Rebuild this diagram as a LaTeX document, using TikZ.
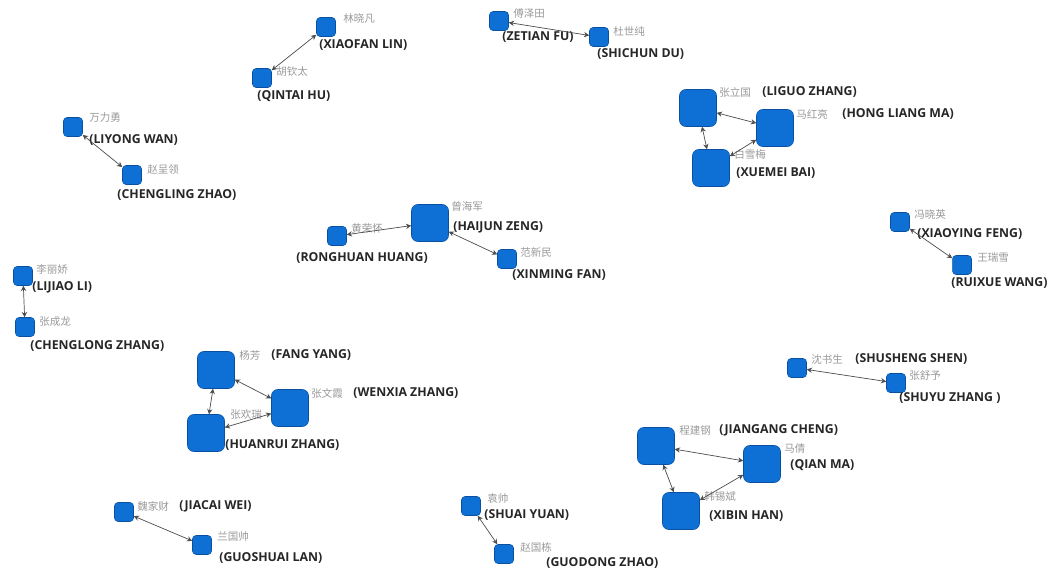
\documentclass[tikz,border=0pt]{standalone}
\usepackage{fontspec}
\setmainfont{Open Sans}
\newfontfamily\cjk{Noto Sans CJK SC}
\usepackage{xcolor}
\definecolor{nodeblue}{RGB}{14,112,212}
\definecolor{nodeedge}{RGB}{10,80,160}
\usetikzlibrary{arrows.meta}

\begin{document}
\begin{tikzpicture}[x=0.02cm,y=-0.02cm,
    author/.style={draw=nodeedge, fill=nodeblue, line width=0.3pt, inner sep=0pt},
    sm/.style={author, minimum size=0.38cm, rounded corners=2pt},
    lg/.style={author, minimum size=0.74cm, rounded corners=3.5pt},
    cn/.style={anchor=west, inner sep=0pt, text=black!40, font=\cjk\fontsize{6}{7}\selectfont},
    en/.style={anchor=west, inner sep=0pt, text=black!85, font=\fontsize{7}{8}\selectfont\bfseries},
    link/.style={draw=black!70, line width=0.4pt,
        {Stealth[length=3pt,width=3pt]}-{Stealth[length=3pt,width=3pt]}}]
    \useasboundingbox (0,0) rectangle (1048,570);

    % Lin - Hu
    \node[sm] (lin) at (326,27) {};
    \node[sm] (hu) at (262,78) {};
    \node[cn] (lincn) at (343,19) {林晓凡};
    \node[en] (linen) at (319,45) {(XIAOFAN LIN)};
    \node[cn] (hucn) at (276,72) {胡钦太};
    \node[en] (huen) at (257,96) {(QINTAI HU)};
    \draw[link] (hu) -- (lin);

    % Fu - Du
    \node[sm] (fu) at (499,21) {};
    \node[sm] (du) at (599,37) {};
    \node[cn] (fucn) at (513,14) {傅泽田};
    \node[en] (fuen) at (502,37) {(ZETIAN FU)};
    \node[cn] (ducn) at (613,31) {杜世纯};
    \node[en] (duen) at (597,54) {(SHICHUN DU)};
    \draw[link] (fu) -- (du);

    % Zhang - Ma - Bai
    \node[lg] (liguo) at (698,108) {};
    \node[lg] (hongliang) at (775,128) {};
    \node[lg] (xuemei) at (711,168) {};
    \node[cn] (liguocn) at (719,92) {张立国};
    \node[en] (liguoen) at (762,92) {(LIGUO ZHANG)};
    \node[cn] (hongliangcn) at (796,114) {马红亮};
    \node[en] (hongliangen) at (842,114) {(HONG LIANG MA)};
    \node[cn] (xuemeicn) at (734,154) {白雪梅};
    \node[en] (xuemeien) at (736,173) {(XUEMEI BAI)};
    \draw[link] (liguo) -- (hongliang);
    \draw[link] (liguo) -- (xuemei);
    \draw[link] (hongliang) -- (xuemei);

    % Wan - Zhao
    \node[sm] (liyong) at (73,127) {};
    \node[sm] (chengling) at (132,175) {};
    \node[cn] (liyongcn) at (89,118) {万力勇};
    \node[en] (liyongen) at (89,140) {(LIYONG WAN)};
    \node[cn] (chenglingcn) at (147,170) {赵呈领};
    \node[en] (chenglingen) at (117,195) {(CHENGLING ZHAO)};
    \draw[link] (liyong) -- (chengling);

    % Zeng - Huang - Fan
    \node[lg] (haijun) at (430,223) {};
    \node[sm] (ronghuan) at (337,236) {};
    \node[sm] (xinming) at (507,259) {};
    \node[cn] (haijuncn) at (451,206) {曾海军};
    \node[en] (haijunen) at (453,227) {(HAIJUN ZENG)};
    \node[cn] (ronghuancn) at (351,229) {黄荣怀};
    \node[en] (ronghuanen) at (296,258) {(RONGHUAN HUANG)};
    \node[cn] (xinmingcn) at (520,253) {范新民};
    \node[en] (xinmingen) at (512,275) {(XINMING FAN)};
    \draw[link] (ronghuan) -- (haijun);
    \draw[link] (haijun) -- (xinming);

    % Li - Zhang
    \node[sm] (lijiao) at (23,276) {};
    \node[sm] (chenglong) at (25,327) {};
    \node[cn] (lijiaocn) at (36,270) {李丽娇};
    \node[en] (lijiaoen) at (32,287) {(LIJIAO LI)};
    \node[cn] (chenglongcn) at (39,322) {张成龙};
    \node[en] (chenglongen) at (30,346) {(CHENGLONG ZHANG)};
    \draw[link] (lijiao) -- (chenglong);

    % Feng - Wang
    \node[sm] (xiaoying) at (900,222) {};
    \node[sm] (ruixue) at (962,265) {};
    \node[cn] (xiaoyingcn) at (914,215) {冯晓英};
    \node[en] (xiaoyingen) at (917,234) {(XIAOYING FENG)};
    \node[cn] (ruixuecn) at (977,258) {王瑞雪};
    \node[en] (ruixueen) at (951,283) {(RUIXUE WANG)};
    \draw[link] (xiaoying) -- (ruixue);

    % Yang - Zhang - Zhang
    \node[lg] (fang) at (216,370) {};
    \node[lg] (wenxia) at (290,408) {};
    \node[lg] (huanrui) at (206,433) {};
    \node[cn] (fangcn) at (239,355) {杨芳};
    \node[en] (fangen) at (271,355) {(FANG YANG)};
    \node[cn] (wenxiacn) at (311,393) {张文霞};
    \node[en] (wenxiaen) at (353,393) {(WENXIA ZHANG)};
    \node[cn] (huanruicn) at (230,415) {张欢瑞};
    \node[en] (huanruien) at (225,445) {(HUANRUI ZHANG)};
    \draw[link] (fang) -- (wenxia);
    \draw[link] (fang) -- (huanrui);
    \draw[link] (wenxia) -- (huanrui);

    % Shen - Zhang
    \node[sm] (shusheng) at (797,368) {};
    \node[sm] (shuyu) at (896,383) {};
    \node[cn] (shushengcn) at (811,359) {沈书生};
    \node[en] (shushengen) at (855,359) {(SHUSHENG SHEN)};
    \node[cn] (shuyucn) at (909,375) {张舒予};
    \node[en] (shuyuen) at (899,398) {(SHUYU ZHANG )};
    \draw[link] (shusheng) -- (shuyu);

    % Cheng - Ma - Han
    \node[lg] (jiangang) at (656,446) {};
    \node[lg] (qian) at (762,464) {};
    \node[lg] (xibin) at (681,511) {};
    \node[cn] (jiangangcn) at (679,430) {程建钢};
    \node[en] (jiangangen) at (719,430) {(JIANGANG CHENG)};
    \node[cn] (qiancn) at (784,448) {马倩};
    \node[en] (qianen) at (790,465) {(QIAN MA)};
    \node[cn] (xibincn) at (704,497) {韩锡斌};
    \node[en] (xibinen) at (709,516) {(XIBIN HAN)};
    \draw[link] (jiangang) -- (qian);
    \draw[link] (jiangang) -- (xibin);
    \draw[link] (qian) -- (xibin);

    % Wei - Lan
    \node[sm] (jiacai) at (124,512) {};
    \node[sm] (guoshuai) at (202,545) {};
    \node[cn] (jiacaicn) at (137,506) {魏家财};
    \node[en] (jiacaien) at (179,506) {(JIACAI WEI)};
    \node[cn] (guoshuaicn) at (217,537) {兰国帅};
    \node[en] (guoshuaien) at (219,558) {(GUOSHUAI LAN)};
    \draw[link] (jiacai) -- (guoshuai);

    % Yuan - Zhao
    \node[sm] (shuai) at (471,506) {};
    \node[sm] (guodong) at (504,554) {};
    \node[cn] (shuaicn) at (487,499) {袁帅};
    \node[en] (shuaien) at (484,515) {(SHUAI YUAN)};
    \node[cn] (guodongcn) at (520,547) {赵国栋};
    \node[en] (guodongen) at (546,563) {(GUODONG ZHAO)};
    \draw[link] (shuai) -- (guodong);
\end{tikzpicture}
\end{document}
